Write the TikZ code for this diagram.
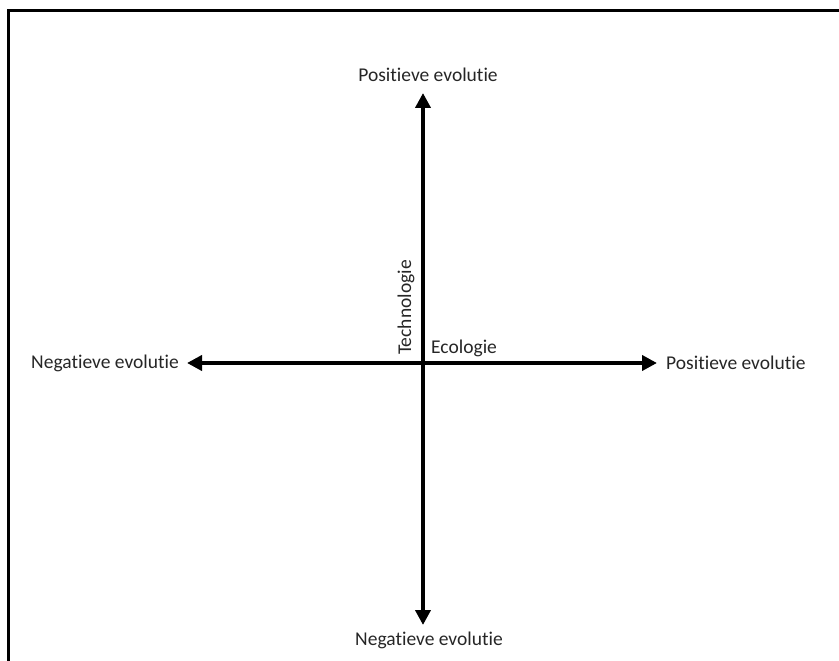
\documentclass[tikz,border=0pt]{standalone}
\usepackage{fontspec}
\setmainfont{Carlito}[RawFeature={-liga;-dlig;-clig}]
\usetikzlibrary{arrows.meta}
\begin{document}
\begin{tikzpicture}[x=1pt,y=-1pt,
  lbl/.style={font=\fontsize{19.5}{22}\selectfont, text=black!85, inner sep=0pt},
  axis/.style={line width=4pt, {Triangle[width=15pt,length=15pt]}-{Triangle[width=15pt,length=15pt]}}]
\useasboundingbox (0,0) rectangle (839,661);
\draw[line width=3pt] (8,661) -- (8,11) -- (839,11);
\coordinate (top) at (423,93);
\coordinate (bot) at (423,625);
\coordinate (lft) at (187,363);
\coordinate (rgt) at (657,363);
\draw[axis] (bot) -- (top);
\draw[axis] (lft) -- (rgt);
\node[lbl] (ptop) at (428,75) {Positieve evolutie};
\node[lbl] (nbot) at (429,640) {Negatieve evolutie};
\node[lbl, anchor=east] (nl) at (179,363) {Negatieve evolutie};
\node[lbl, anchor=west] (pr) at (666,363) {Positieve evolutie};
\node[lbl, anchor=base west] (eco) at (431,353) {Ecologie};
\node[lbl, rotate=90, anchor=base west] (tech) at (411,355) {Technologie};
\end{tikzpicture}
\end{document}
